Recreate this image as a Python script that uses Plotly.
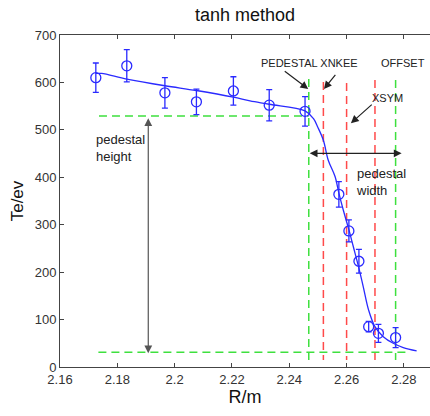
import plotly.graph_objects as go

# measured data points
r_data = [2.1725, 2.1833, 2.1966, 2.2076, 2.2205, 2.2330, 2.2455,
          2.2573, 2.2608, 2.2643, 2.2677, 2.2711, 2.2771]
te_data = [610, 635, 578, 559, 582, 552, 539, 364, 287, 223, 85, 71, 62]
te_err = [31, 34, 32, 27, 30, 33, 31, 27, 23, 25, 11, 19, 21]

# fitted tanh curve
r_fit = [2.1725, 2.1745, 2.1833, 2.1966, 2.2076, 2.2205, 2.2263, 2.2330,
         2.2455, 2.2484, 2.2500, 2.2519, 2.2536, 2.2560, 2.25733, 2.25884,
         2.26082, 2.26233, 2.26431, 2.26582, 2.26768, 2.26989, 2.27279,
         2.27628, 2.27977, 2.28443]
te_fit = [619, 619, 607, 593, 583, 569, 561, 554, 540, 524, 505, 478, 436,
          401, 366, 331, 289, 254, 208, 169, 120, 85, 64, 50, 41, 34]

# guide lines
ped_top = 529
ped_bottom = 31
ped_top_x = [2.1736, 2.2468]
ped_bottom_x = [2.1734, 2.2814]
green_vx = [2.2468, 2.2771]
green_vtop = [607, 605]
red_vx = [2.2519, 2.2600, 2.2699]
red_vtop = [601, 599, 605]
v_bottom = 15

xticks = [2.16, 2.18, 2.2, 2.22, 2.24, 2.26, 2.28]
xticklabels = ["2.16", "2.18", "2.2", "2.22", "2.24", "2.26", "2.28"]
yticks = [0, 100, 200, 300, 400, 500, 600, 700]

BLUE = "#2a2aff"
GREEN = "#3ee03e"
RED = "#ff4a4a"
DARK = "#222222"
FONT = "Arial, Liberation Sans, sans-serif"

fig = go.Figure()

dash = "8px,5px"
fig.add_trace(go.Scatter(x=ped_top_x, y=[ped_top, ped_top], mode="lines",
                         line=dict(color=GREEN, width=1.5, dash=dash)))
fig.add_trace(go.Scatter(x=ped_bottom_x, y=[ped_bottom, ped_bottom], mode="lines",
                         line=dict(color=GREEN, width=1.5, dash=dash)))
for xv, yt in zip(green_vx, green_vtop):
    fig.add_trace(go.Scatter(x=[xv, xv], y=[yt, v_bottom], mode="lines",
                             line=dict(color=GREEN, width=1.5, dash=dash)))
for xv, yt in zip(red_vx, red_vtop):
    fig.add_trace(go.Scatter(x=[xv, xv], y=[yt, v_bottom], mode="lines",
                             line=dict(color=RED, width=1.5, dash=dash)))

fig.add_trace(go.Scatter(x=r_fit, y=te_fit, mode="lines",
                         line=dict(color=BLUE, width=1.3, shape="spline")))
fig.add_trace(go.Scatter(
    x=r_data, y=te_data, mode="markers",
    marker=dict(symbol="circle-open", size=10, color=BLUE, line=dict(width=1.3)),
    error_y=dict(type="data", array=te_err, visible=True, color=BLUE,
                 thickness=1.3, width=3)))

def arrow(x0, y0, x1, y1, both=False, color=DARK):
    fig.add_annotation(x=x1, y=y1, ax=x0, ay=y0, xref="x", yref="y",
                       axref="x", ayref="y", text="", showarrow=True,
                       arrowhead=2, arrowsize=1.3, arrowwidth=1.2,
                       arrowcolor=color,
                       arrowside="end+start" if both else "end",
                       startarrowhead=2, startarrowsize=1.3)

arrow(2.2379, 626, 2.2466, 586)
arrow(2.2565, 619, 2.2521, 586)
arrow(2.2693, 556, 2.2615, 514)
arrow(2.2466, 450.6, 2.2792, 450.6, both=True)
arrow(2.1908, 527.7, 2.1908, 29, both=True, color="#555555")

def label(x, y, text, size, anchor="center"):
    fig.add_annotation(x=x, y=y, xref="x", yref="y", text=text, showarrow=False,
                       xanchor=anchor, yanchor="middle",
                       font=dict(family=FONT, size=size, color=DARK), align="left")

label(2.2472, 641.6, "PEDESTAL XNKEE", 11)
label(2.2798, 641.6, "OFFSET", 11)
label(2.2743, 566.5, "XSYM", 11)
label(2.2626, 391, "pedestal<br>width", 13, anchor="left")
label(2.1720, 461.7, "pedestal<br>height", 13, anchor="left")

fig.update_layout(
    width=430, height=416,
    margin=dict(l=60, r=0, t=35, b=49),
    paper_bgcolor="white", plot_bgcolor="white",
    showlegend=False,
    font=dict(family=FONT, color="#333333"),
    title=dict(text="tanh method", x=0.57, xanchor="center", y=0.965, yanchor="middle",
               font=dict(family=FONT, size=18, color="#111111")),
)
fig.update_xaxes(range=[2.16, 2.2891], tickvals=xticks, ticktext=xticklabels,
                 ticks="inside", ticklen=4, tickcolor="#444444",
                 showline=True, linecolor="#444444", linewidth=1, mirror="ticks",
                 showgrid=False, zeroline=False,
                 tickfont=dict(family=FONT, size=13, color="#333333"),
                 title=dict(text="R/m", standoff=4,
                            font=dict(family=FONT, size=18, color="#111111")))
fig.update_yaxes(range=[0, 700], tickvals=yticks,
                 ticks="inside", ticklen=4, tickcolor="#444444",
                 showline=True, linecolor="#444444", linewidth=1,
                 showgrid=False, zeroline=False,
                 tickfont=dict(family=FONT, size=13, color="#333333"),
                 title=dict(text="Te/ev", standoff=6,
                            font=dict(family=FONT, size=17, color="#111111")))

fig.write_html("out.html")
